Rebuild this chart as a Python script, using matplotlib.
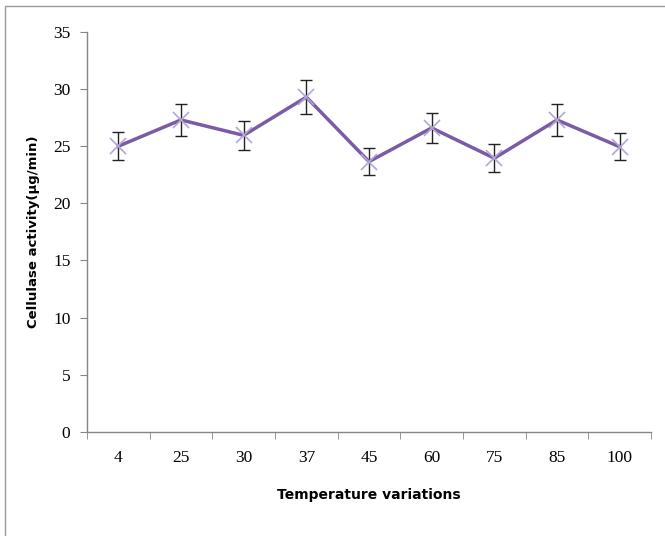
import matplotlib
matplotlib.use("Agg")
import matplotlib.pyplot as plt
from matplotlib.patches import Rectangle

categories = ["4", "25", "30", "37", "45", "60", "75", "85", "100"]
activity = [25.0, 27.3, 25.95, 29.3, 23.65, 26.6, 23.95, 27.3, 24.95]
errors = [1.2, 1.4, 1.3, 1.5, 1.2, 1.35, 1.25, 1.4, 1.2]
yticks = [0, 5, 10, 15, 20, 25, 30, 35]

W, H = 665, 536
fig = plt.figure(figsize=(W / 100, H / 100), dpi=100)
fig.patches.append(Rectangle((5 / W, -0.1), 1.2, (H - 6) / H + 0.1,
                             transform=fig.transFigure, fill=False,
                             edgecolor="#9a9a9a", linewidth=1.0))
ax = fig.add_axes([87 / W, 1 - 431.7 / H, (651 - 87) / W, (431.7 - 32) / H])

x = list(range(len(categories)))
ax.errorbar(x, activity, yerr=errors, fmt="none", ecolor="#222222",
            elinewidth=1.0, capsize=4, capthick=1.0, zorder=3)
ax.plot(x, activity, color="#7B5AA6", linewidth=2.5, zorder=4)
ax.plot(x, activity, linestyle="none", marker="x", markersize=11,
        markeredgewidth=1.2, color="#B2A6D6", zorder=5)

ax.set_xlim(-0.5, len(categories) - 0.5)
ax.set_ylim(0, 35)
ax.set_yticks(yticks)
ax.set_yticklabels([str(v) for v in yticks], family="Liberation Serif",
                   fontsize=12.5)
ax.set_xticks(x)
ax.set_xticklabels(categories, family="Liberation Serif", fontsize=12.5)
ax.tick_params(axis="x", which="major", length=0, pad=13)
ax.set_xticks([i - 0.5 for i in range(len(categories) + 1)], minor=True)
ax.tick_params(axis="x", which="minor", length=5, color="#868686",
               direction="out")
ax.tick_params(axis="y", length=5, color="#868686", direction="out", pad=7)

for s in ["top", "right"]:
    ax.spines[s].set_visible(False)
for s in ["left", "bottom"]:
    ax.spines[s].set_color("#868686")
    ax.spines[s].set_linewidth(1.0)

ax.set_xlabel("Temperature variations", family="DejaVu Sans",
              fontweight="bold", fontsize=10, labelpad=16)
ax.set_ylabel("Cellulase activity(µg/min)", family="DejaVu Sans",
              fontweight="bold", fontsize=9.5, labelpad=9)

fig.savefig("out.png", dpi=100)
